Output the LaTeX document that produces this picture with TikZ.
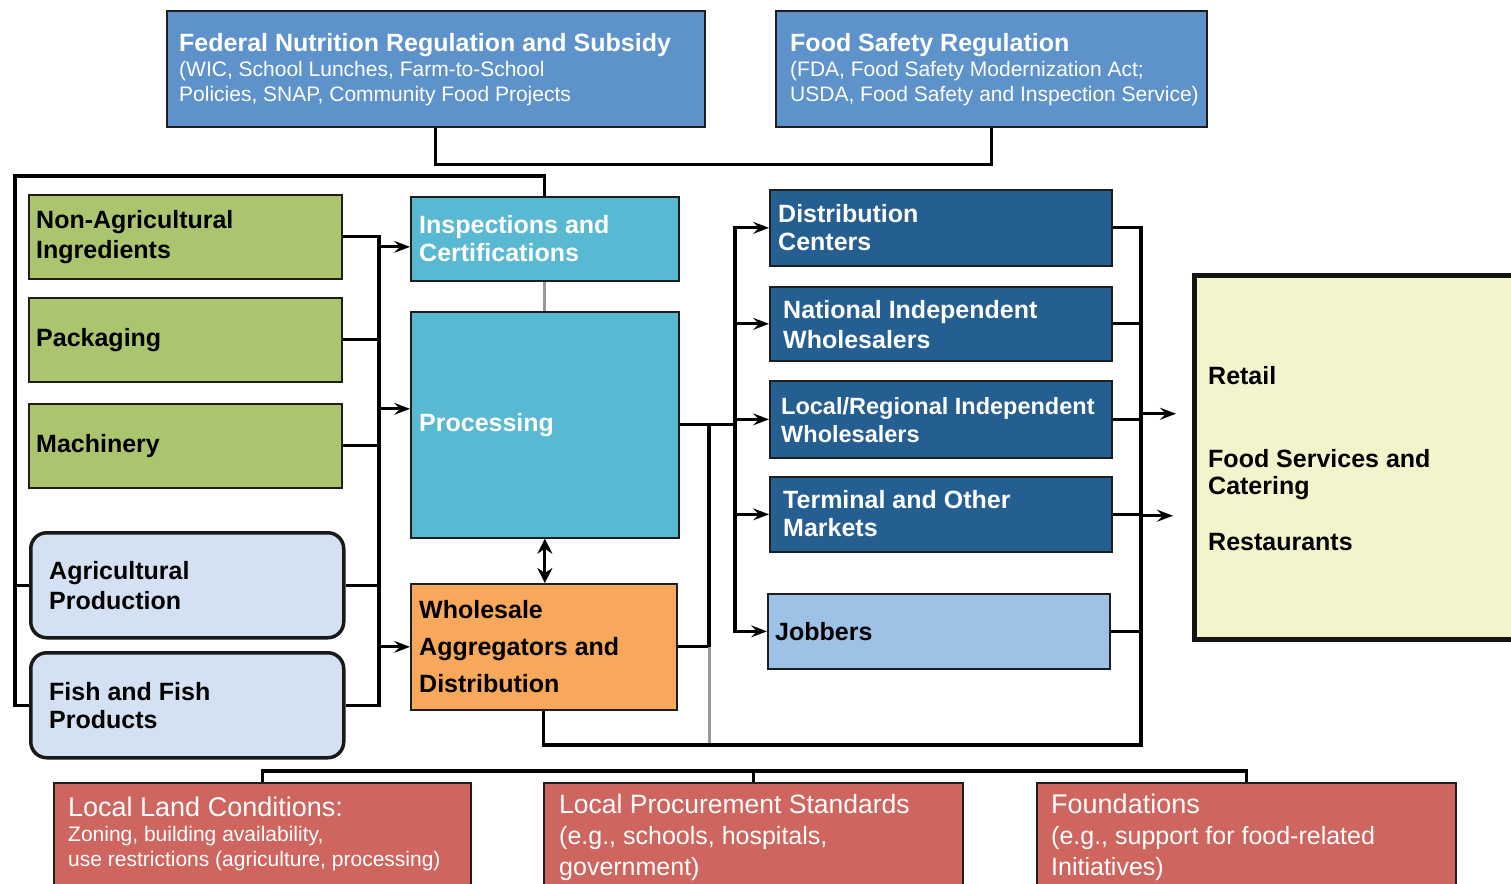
\documentclass[tikz,border=0pt]{standalone}
\usepackage{fontspec}
\setmainfont{Liberation Sans}
\usetikzlibrary{arrows.meta}
\definecolor{fedblue}{RGB}{94,146,203}
\definecolor{cyanbox}{RGB}{89,185,210}
\definecolor{darkblue}{RGB}{37,94,145}
\definecolor{lightblue}{RGB}{158,193,230}
\definecolor{greenbox}{RGB}{171,197,110}
\definecolor{palebox}{RGB}{211,225,242}
\definecolor{orangebox}{RGB}{247,168,91}
\definecolor{retailbox}{RGB}{242,244,204}
\definecolor{redbox}{RGB}{207,101,95}
\definecolor{edge}{RGB}{30,30,30}
\begin{document}
\begin{tikzpicture}[x=1pt,y=-1pt,
  bx/.style={draw=edge, line width=1.7pt, rectangle, inner sep=0pt, anchor=north west},
  rbx/.style={bx, rounded corners=16pt, line width=3.5pt, draw=black!90},
  conn/.style={line width=3.2pt, black},
  grayconn/.style={line width=3pt, black!40},
  arr/.style={conn, -{Stealth[length=16pt,width=12pt,inset=6pt]}},
  dblarr/.style={conn, {Stealth[length=15pt,width=15pt,inset=5pt]}-{Stealth[length=15pt,width=15pt,inset=5pt]}},
  ktxt/.style={font=\fontsize{25}{30}\selectfont\bfseries, align=left, inner sep=0pt, anchor=west},
  wtxt/.style={ktxt, text=white},
  redtxt/.style={font=\fontsize{25}{31}\selectfont, align=left, inner sep=0pt, anchor=north west, text=white}
]
\fill[white] (0,0) rectangle (1511,883);
\useasboundingbox (0,0) rectangle (1511,883);

% ---------- boxes ----------
\node[bx, fill=fedblue, minimum width=538pt, minimum height=116pt] (fed) at (166,10) {};
\node[bx, fill=fedblue, minimum width=431pt, minimum height=116pt] (fs) at (775,10) {};

\node[bx, fill=greenbox, minimum width=313pt, minimum height=84pt] (nonag) at (28,194) {};
\node[bx, fill=greenbox, minimum width=313pt, minimum height=84pt] (pack) at (28,297) {};
\node[bx, fill=greenbox, minimum width=313pt, minimum height=84pt] (mach) at (28,403) {};
\node[rbx, fill=palebox, minimum width=313pt, minimum height=105pt] (ag) at (29,531) {};
\node[rbx, fill=palebox, minimum width=313pt, minimum height=105pt] (fish) at (29,651) {};

\node[bx, fill=cyanbox, minimum width=268pt, minimum height=84pt] (insp) at (410,196) {};
\node[bx, fill=cyanbox, minimum width=268pt, minimum height=226pt] (proc) at (410,311) {};
\node[bx, fill=orangebox, minimum width=266pt, minimum height=126pt] (whole) at (410,583) {};

\node[bx, fill=darkblue, minimum width=342pt, minimum height=76pt] (dc) at (769,189) {};
\node[bx, fill=darkblue, minimum width=342pt, minimum height=74pt] (nat) at (769,286) {};
\node[bx, fill=darkblue, minimum width=342pt, minimum height=77pt] (loc) at (769,380) {};
\node[bx, fill=darkblue, minimum width=342pt, minimum height=75pt] (term) at (769,476) {};
\node[bx, fill=lightblue, minimum width=342pt, minimum height=75pt] (job) at (767,593) {};

\node[bx, fill=retailbox, line width=4.5pt, draw=black!92, minimum width=340pt, minimum height=364pt] (retail) at (1192,273) {};

\node[bx, fill=redbox, minimum width=417pt, minimum height=110pt] (land) at (53,782) {};
\node[bx, fill=redbox, minimum width=419pt, minimum height=110pt] (stand) at (543,782) {};
\node[bx, fill=redbox, minimum width=419pt, minimum height=110pt] (found) at (1036,782) {};

% ---------- texts ----------
\node[wtxt, font=\fontsize{21}{25}\selectfont] (fed-t) at ([xshift=13pt,yshift=-1pt]fed.west)
  {{\bfseries\fontsize{25}{29}\selectfont Federal Nutrition Regulation and Subsidy}\\
   (WIC, School Lunches, Farm-to-School\\
   Policies, SNAP, Community Food Projects};
\node[wtxt, font=\fontsize{21}{25}\selectfont] (fs-t) at ([xshift=15pt,yshift=-1pt]fs.west)
  {{\bfseries\fontsize{25}{29}\selectfont Food Safety Regulation}\\
   (FDA, Food Safety Modernization Act;\\
   USDA, Food Safety and Inspection Service)};

\node[ktxt] (nonag-t) at ([xshift=8pt]nonag.west) {Non-Agricultural\\Ingredients};
\node[ktxt] (pack-t) at ([xshift=8pt]pack.west) {Packaging};
\node[ktxt] (mach-t) at ([xshift=8pt]mach.west) {Machinery};
\node[ktxt] (ag-t) at ([xshift=20pt]ag.west) {Agricultural\\Production};
\node[ktxt, font=\fontsize{25}{28}\selectfont\bfseries] (fish-t) at ([xshift=20pt]fish.west) {Fish and Fish\\Products};

\node[wtxt, font=\fontsize{25}{28}\selectfont\bfseries] (insp-t) at ([xshift=9pt]insp.west) {Inspections and\\Certifications};
\node[wtxt] (proc-t) at ([xshift=9pt]proc.west) {Processing};
\node[ktxt, font=\fontsize{25}{37}\selectfont\bfseries] (whole-t) at ([xshift=9pt]whole.west) {Wholesale\\Aggregators and\\Distribution};

\node[wtxt, font=\fontsize{25}{28}\selectfont\bfseries] (dc-t) at ([xshift=9pt]dc.west) {Distribution\\Centers};
\node[wtxt] (nat-t) at ([xshift=14pt,yshift=-1pt]nat.west) {National Independent\\Wholesalers};
\node[wtxt, font=\fontsize{23.5}{28}\selectfont\bfseries] (loc-t) at ([xshift=12pt,yshift=-1pt]loc.west) {Local/Regional Independent\\Wholesalers};
\node[wtxt, font=\fontsize{25}{28}\selectfont\bfseries] (term-t) at ([xshift=14pt,yshift=1pt]term.west) {Terminal and Other\\Markets};
\node[ktxt] (job-t) at ([xshift=8pt]job.west) {Jobbers};

\node[ktxt, font=\fontsize{25}{27}\selectfont\bfseries] (retail-t) at ([xshift=16pt,yshift=-1pt]retail.west)
  {Retail\\[56pt]Food Services and\\Catering\\[29pt]Restaurants};

\node[redtxt, font=\fontsize{21}{25}\selectfont] (land-t) at ([xshift=15pt,yshift=-15pt]land.north west)
  {{\fontsize{27}{31}\selectfont Local Land Conditions:}\\
   Zoning, building availability,\\
   use restrictions (agriculture, processing)};
\node[redtxt] (stand-t) at ([xshift=16pt,yshift=-12pt]stand.north west)
  {{\fontsize{26.5}{31}\selectfont Local Procurement Standards}\\
   (e.g., schools, hospitals,\\
   government)};
\node[redtxt] (found-t) at ([xshift=15pt,yshift=-12pt]found.north west)
  {{\fontsize{27}{31}\selectfont Foundations}\\
   (e.g., support for food-related\\
   Initiatives)};

% ---------- named coordinates ----------
\coordinate (tl) at (15,176);
\coordinate (lb) at (379,0);
\coordinate (mj) at (709,0);
\coordinate (mb) at (735,0);
\coordinate (rbus) at (1141,745);
\coordinate (ia) at ([yshift=-8pt]insp.west);
\coordinate (pa) at ([yshift=16pt]proc.west);
\coordinate (ra) at ([xshift=-16pt,yshift=43.5pt]retail.west);
\coordinate (rb) at ([xshift=-19pt,yshift=-58.5pt]retail.west);

% ---------- connectors ----------
% regulation boxes
\draw[conn] (fed.south) -- ++(0,37) -| (fs.south);
% outer frame from inspections to the producers
\draw[conn] (insp.north) |- (tl) |- (fish.west);
\draw[conn] (ag.west) -- (ag.west -| tl);
% left bus
\draw[conn] (nonag.east) -| (fish.east -| lb) -- (fish.east);
\draw[conn] (pack.east) -- (pack.east -| lb);
\draw[conn] (mach.east) -- (mach.east -| lb);
\draw[conn] (ag.east) -- (ag.east -| lb);
\draw[arr] (ia -| lb) -- (ia);
\draw[arr] (pa -| lb) -- (pa);
\draw[arr] (whole.west -| lb) -- (whole.west);
% inspections - processing
\draw[grayconn] (insp.south) -- (proc.north);
\draw[dblarr] (proc.south) -- (proc.south |- whole.north);
% processing to distribution bus
\draw[conn] (proc.east) -- (proc.east -| mb);
\draw[arr] (proc.east -| mb) |- (dc.west);
\draw[arr] (proc.east -| mb) |- (job.west);
\draw[arr] (nat.west -| mb) -- (nat.west);
\draw[arr] (loc.west -| mb) -- (loc.west);
\draw[arr] (term.west -| mb) -- (term.west);
% wholesale link
\draw[conn] (proc.east -| mj) -- (whole.east -| mj) -- (whole.east);
\draw[grayconn] (whole.east -| mj) -- (mj |- rbus);
% right bus
\draw[conn] (whole.south) |- (rbus) |- (dc.east);
\draw[conn] (nat.east) -- (nat.east -| rbus);
\draw[conn] (loc.east) -- (loc.east -| rbus);
\draw[conn] (term.east) -- (term.east -| rbus);
\draw[conn] (job.east) -- (job.east -| rbus);
\draw[arr] (ra -| rbus) -- (ra);
\draw[arr] (rb -| rbus) -- (rb);
% bottom factors
\draw[conn] (land.north) -- ++(0,-11) -| (found.north);
\draw[conn] (stand.north) -- ++(0,-11);
\end{tikzpicture}
\end{document}
